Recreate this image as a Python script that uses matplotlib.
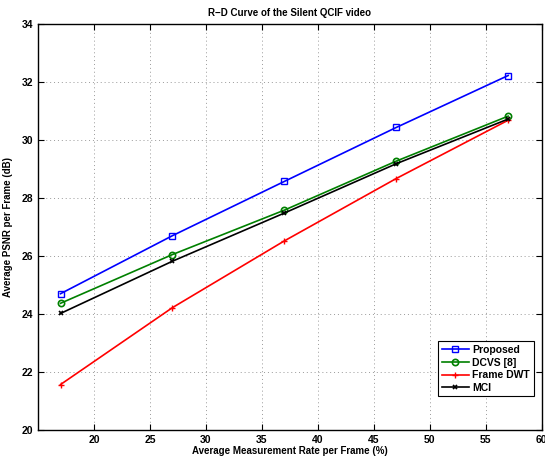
import matplotlib
matplotlib.use("Agg")
import matplotlib.pyplot as plt

plt.rcParams['font.family'] = ['Liberation Sans', 'DejaVu Sans']
plt.rcParams['font.weight'] = 'bold'

rate = [17, 27, 37, 47, 57]
proposed = [24.70, 26.70, 28.57, 30.43, 32.22]
dcvs = [24.37, 26.05, 27.58, 29.27, 30.82]
frame_dwt = [21.57, 24.22, 26.52, 28.67, 30.68]
mci = [24.02, 25.82, 27.48, 29.18, 30.72]

fig = plt.figure(figsize=(5.45, 4.59), dpi=100)
ax = fig.add_axes([0.07, 0.063, 0.924, 0.885])

ax.plot(rate, proposed, color='blue', marker='s', markersize=4, mfc='none', lw=1.2, label='Proposed')
ax.plot(rate, dcvs, color='green', marker='o', markersize=4.5, mfc='none', mew=1.2, lw=1.2, label='DCVS [8]')
ax.plot(rate, frame_dwt, color='red', marker='+', markersize=5, lw=1.2, label='Frame DWT')
ax.plot(rate, mci, color='black', marker='x', markersize=3.5, mew=1.2, lw=1.2, label='MCI')

ax.set_xlim(15, 60)
ax.set_ylim(20, 34)
ax.set_xticks(range(20, 61, 5))
ax.set_yticks(range(20, 35, 2))
ax.grid(True, linestyle=(0, (1, 3)), color='#999999', lw=0.7)
ax.tick_params(direction='in', top=True, right=True, labelsize=7.5, length=4)
for s in ax.spines.values():
    s.set_linewidth(1.0)

ax.set_title('R\u2212D Curve of the Silent QCIF video', fontsize=7, fontweight='bold', pad=6)
ax.set_xlabel('Average Measurement Rate per Frame (%)', fontsize=7, fontweight='bold', labelpad=1)
ax.set_ylabel('Average PSNR per Frame (dB)', fontsize=7, fontweight='bold', labelpad=6)

leg = ax.legend(loc='lower right', bbox_to_anchor=(0.994, 0.07), fontsize=7.5, fancybox=False,
                edgecolor='black', framealpha=1, handlelength=2.6, borderpad=0.35,
                labelspacing=0.25, handletextpad=0.3)
leg.get_frame().set_linewidth(0.8)

fig.savefig('out.png', dpi=100)
